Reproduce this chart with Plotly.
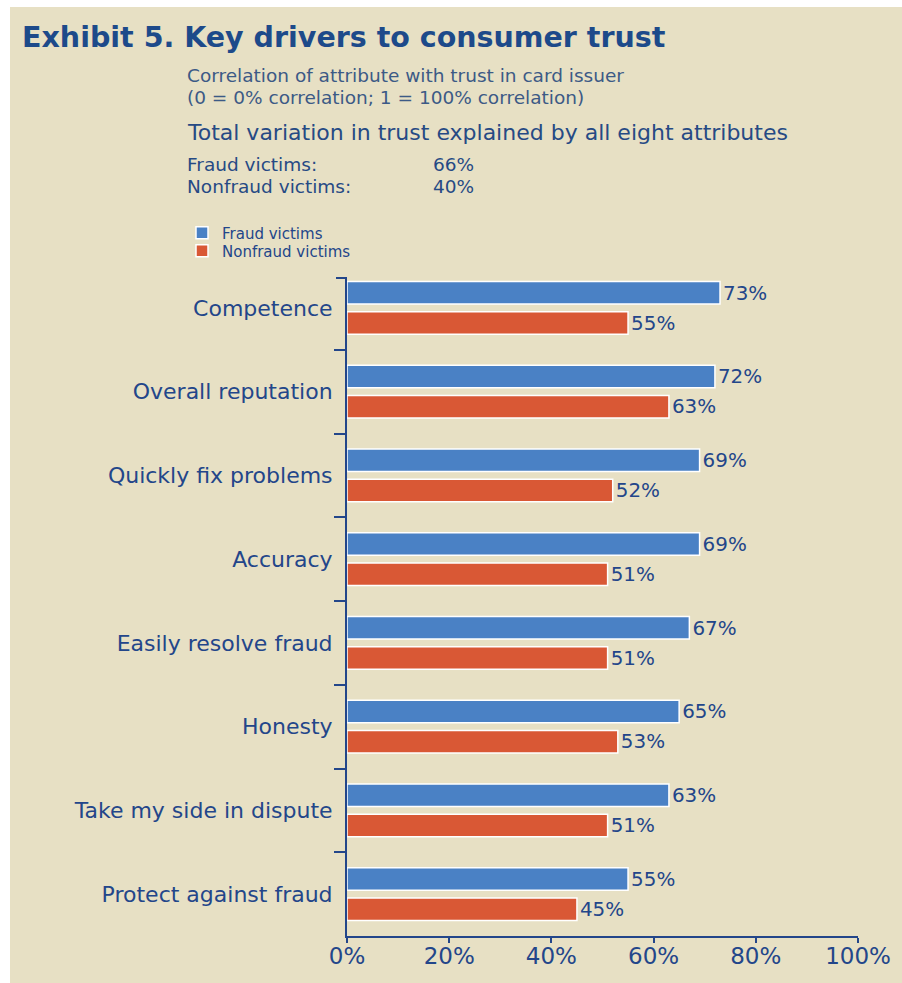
import plotly.graph_objects as go

# chart data
attributes = ['Competence', 'Overall reputation', 'Quickly fix problems', 'Accuracy',
              'Easily resolve fraud', 'Honesty', 'Take my side in dispute', 'Protect against fraud']
fraud_victims = [73, 72, 69, 69, 67, 65, 63, 55]
nonfraud_victims = [55, 63, 52, 51, 51, 53, 51, 45]
x_ticks = [0, 20, 40, 60, 80, 100]
total_explained = {'Fraud victims:': '66%', 'Nonfraud victims:': '40%'}

W, H = 902, 983
X0, X1, Y0, Y1 = 347, 858, 278, 936   # plot area in pixels
BG = '#e7e0c4'
NAVY = '#23468a'
BLUE = '#4a81c5'
ORANGE = '#d95835'
FONT = 'DejaVu Sans'


def px(x, y):
    # pixel position -> paper coords
    return (x - X0) / (X1 - X0), (Y1 - y) / (Y1 - Y0)


fig = go.Figure()
fig.add_trace(go.Bar(
    y=attributes, x=fraud_victims, orientation='h', name='Fraud victims', legend='legend',
    marker=dict(color=BLUE, line=dict(color='white', width=1.5)),
    text=[f'{v}%' for v in fraud_victims], textposition='outside',
    textfont=dict(color=NAVY, size=22, family=FONT), cliponaxis=False,
))
fig.add_trace(go.Bar(
    y=attributes, x=nonfraud_victims, orientation='h', name='Nonfraud victims', legend='legend2',
    marker=dict(color=ORANGE, line=dict(color='white', width=1.5)),
    text=[f'{v}%' for v in nonfraud_victims], textposition='outside',
    textfont=dict(color=NAVY, size=22, family=FONT), cliponaxis=False,
))

annotations = []


def note(text, x, y, size, color, bold=False):
    ax, ay = px(x, y)
    if bold:
        text = f'<b>{text}</b>'
    annotations.append(dict(text=text, x=ax, y=ay, xref='paper', yref='paper',
                            xanchor='left', yanchor='middle', showarrow=False,
                            font=dict(size=size, color=color, family=FONT)))


note('Exhibit 5. Key drivers to consumer trust', 20, 38, 28.5, '#1d4a8a', bold=True)
note('Correlation of attribute with trust in card issuer', 185, 75.5, 18.5, '#3c5a86')
note('(0 = 0% correlation; 1 = 100% correlation)', 185, 97.5, 18.5, '#3c5a86')
note('Total variation in trust explained by all eight attributes', 185, 132, 22, '#264a84')
row_y = 165
for label, val in total_explained.items():
    note(label, 185, row_y, 18.5, '#264a84')
    note(val, 431, row_y, 18.5, '#264a84')
    row_y += 22


def legend_at(y):
    lx, ly = px(182, y)
    return dict(x=lx, y=ly, xanchor='left', yanchor='middle', bgcolor='rgba(0,0,0,0)',
                itemwidth=30, font=dict(size=15, color=NAVY, family=FONT))


top_tick_x = px(X0 - 11, Y0)[0]
fig.update_layout(
    width=W, height=H,
    margin=dict(l=X0, r=W - X1, t=Y0, b=H - Y1, autoexpand=False),
    paper_bgcolor=BG, plot_bgcolor=BG,
    barmode='group', bargap=0.28, bargroupgap=0.25,
    showlegend=True,
    legend=legend_at(233),
    legend2=legend_at(251),
    annotations=annotations,
    shapes=[
        # white strips at the left and top of the picture
        dict(type='rect', xref='paper', yref='paper', layer='above',
             x0=px(-5, 0)[0], x1=px(10, 0)[0], y0=px(0, -5)[1], y1=px(0, H + 5)[1],
             fillcolor='white', line=dict(width=0)),
        dict(type='rect', xref='paper', yref='paper', layer='above',
             x0=px(-5, 0)[0], x1=px(W + 5, 0)[0], y0=px(0, -5)[1], y1=px(0, 7)[1],
             fillcolor='white', line=dict(width=0)),
        # tick at the top end of the category axis
        dict(type='line', xref='paper', yref='paper', x0=top_tick_x, x1=0, y0=1, y1=1,
             line=dict(color=NAVY, width=2)),
    ],
    font=dict(family=FONT, color=NAVY),
)
fig.update_yaxes(range=[7.5, -0.5 + 12 / 83.75], tickson='boundaries', ticks='outside', ticklen=11,
                 tickwidth=2, tickcolor=NAVY, showline=True, linecolor=NAVY, linewidth=2,
                 showgrid=False, automargin=False, ticklabelstandoff=8,
                 tickfont=dict(size=22, color=NAVY, family=FONT))
fig.update_xaxes(range=[0, 100], tickvals=x_ticks, ticktext=[f'{t}%' for t in x_ticks],
                 ticks='outside', ticklen=5,
                 tickwidth=2, tickcolor=NAVY, showline=True, linecolor=NAVY, linewidth=2,
                 showgrid=False, zeroline=False, automargin=False, ticklabelstandoff=-7,
                 tickfont=dict(size=23, color=NAVY, family=FONT))

# drop the default 8px page margin so the figure fills the window
fig.write_html('out.html', config={'displayModeBar': False},
               post_script="document.body.style.margin='0';")
